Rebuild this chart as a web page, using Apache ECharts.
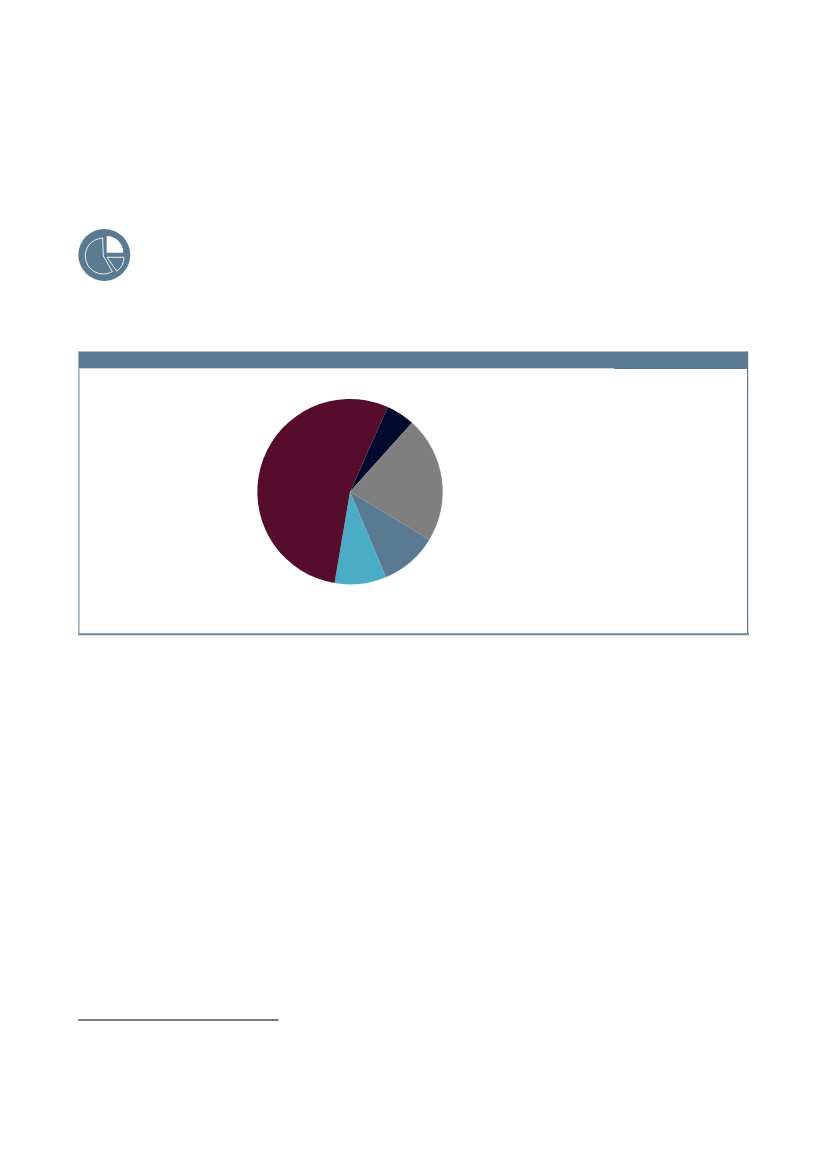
<!DOCTYPE html>
<html>
<head>
<meta charset="utf-8">
<style>html,body{margin:0;padding:0;background:#fff}#c{width:827px;height:1169px}</style>
<script src="https://cdn.jsdelivr.net/npm/echarts@6/dist/echarts.min.js"></script>
</head>
<body>
<div id="c"></div>
<script>
var categories = ['A', 'B', 'C', 'D', 'E'];
var values = [5, 22, 10, 9, 54];
var colors = ['#000a2e', '#7f7f7f', '#5a7a92', '#4bacc6', '#550d2b'];
var steel = '#5a7a92';
var rad = function (d) { return d * Math.PI / 180; };
var chart = echarts.init(document.getElementById('c'), null, {renderer: 'canvas'});
chart.setOption({
  animation: false,
  backgroundColor: '#fff',
  graphic: [
    {type: 'rect', z: 1, shape: {x: 78.3, y: 351.5, width: 1.2, height: 283}, style: {fill: '#7d97ab'}},
    {type: 'rect', z: 1, shape: {x: 747, y: 351.5, width: 1.2, height: 283}, style: {fill: steel}},
    {type: 'rect', z: 1, shape: {x: 78.3, y: 633.2, width: 670.5, height: 2}, style: {fill: '#6a879d'}},
    {type: 'rect', z: 2, shape: {x: 79, y: 351.5, width: 669, height: 16.6}, style: {fill: steel}},
    {type: 'rect', z: 2, shape: {x: 79, y: 368, width: 535, height: 1}, style: {fill: '#c9d5de'}},
    {type: 'rect', z: 2, shape: {x: 614, y: 368, width: 134, height: 1}, style: {fill: steel}},
    {type: 'rect', z: 2, shape: {x: 78.3, y: 1019.2, width: 200.2, height: 1.6}, style: {fill: '#4d4d4d'}},
    {type: 'circle', z: 3, shape: {cx: 104.3, cy: 254.9, r: 26}, style: {fill: steel}},
    {type: 'sector', z: 4, shape: {cx: 106.7, cy: 252.7, r0: 0, r: 16.6, startAngle: rad(-90), endAngle: 0, clockwise: true}, style: {fill: '#fff'}},
    {type: 'sector', z: 4, shape: {cx: 103.3, cy: 256, r0: 0, r: 18, startAngle: rad(60), endAngle: rad(268), clockwise: true}, style: {fill: steel, stroke: '#e8eef2', lineWidth: 1}},
    {type: 'sector', z: 4, shape: {cx: 107, cy: 257.3, r0: 0, r: 17, startAngle: 0, endAngle: rad(55), clockwise: true}, style: {fill: steel, stroke: '#e8eef2', lineWidth: 1}}
  ],
  series: [{
    type: 'pie',
    z: 5,
    center: [350, 491.7],
    radius: [0, 92.7],
    startAngle: 66,
    clockwise: true,
    silent: true,
    label: {show: false},
    labelLine: {show: false},
    emphasis: {disabled: true},
    data: categories.map(function (n, i) {
      return {name: n, value: values[i], itemStyle: {color: colors[i]}};
    })
  }]
});
</script>
</body>
</html>
